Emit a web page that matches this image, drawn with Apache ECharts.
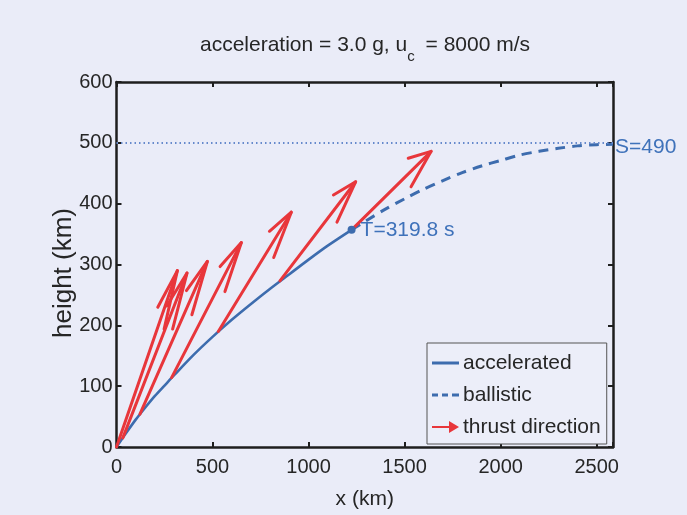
<!DOCTYPE html>
<html>
<head>
<meta charset="utf-8">
<script src="https://cdn.jsdelivr.net/npm/echarts@6/dist/echarts.min.js"></script>
<style>
html,body{margin:0;padding:0;background:#eaecf8;}
#chart{width:687px;height:515px;}
</style>
</head>
<body>
<div id="chart"></div>
<script>
// accelerated (powered) trajectory, km
const accelX = [0, 50, 100, 150, 200, 250, 300, 400, 500, 600, 700, 800, 900, 1000, 1100, 1224];
const accelY = [0, 23, 45, 65, 84, 101, 118, 151, 181, 209, 235, 260, 284, 308, 331, 357];
// ballistic trajectory, km
const ballX = [1224, 1300, 1400, 1500, 1600, 1700, 1800, 1900, 2000, 2100, 2200, 2300, 2400, 2500, 2585];
const ballY = [357, 372, 391, 408, 424, 438, 451, 462, 471, 480, 486, 491, 495, 497, 497.5];
// thrust direction arrows: tails and tips, km
const tailX = [0, 33, 122, 287, 530, 851, 1224];
const tailY = [0, 15, 54, 114, 190, 273, 357];
const tipX = [317, 367, 473, 650, 910, 1245, 1638];
const tipY = [290, 286, 305, 336, 386, 436, 486];
// burnout point and apogee reference
const burnout = [1224, 357];
const burnoutLabel = 'T=319.8 s';
const apogeeLabel = 'S=490';
const refHeight = 500;
// axes
const xTicks = [0, 500, 1000, 1500, 2000, 2500];
const yTicks = [0, 100, 200, 300, 400, 500, 600];
const xMax = 2585;

const BLUE = '#3d6cae';
const RED = '#e8363b';
const LABEL_BLUE = '#3f72ba';
const TXT = '#262626';
const FONT = "'Liberation Sans', Arial, Helvetica, sans-serif";

const accelData = accelX.map((x, i) => [x, accelY[i]]);
const ballData = ballX.map((x, i) => [x, ballY[i]]);
const arrowData = tailX.map((x, i) => [x, tailY[i], tipX[i], tipY[i]]);

const chart = echarts.init(document.getElementById('chart'), null, {renderer: 'canvas'});

const axisCommon = {
  min: 0,
  axisLine: {show: true, onZero: false, lineStyle: {color: '#1e1e1e', width: 2.5}},
  axisTick: {show: true, inside: true, length: 5, lineStyle: {color: '#1e1e1e', width: 2}},
  splitLine: {show: false}
};

const option = {
  backgroundColor: '#eaecf8',
  animation: false,
  title: {
    text: 'acceleration = 3.0 g, u{c|c} = 8000 m/s',
    left: 365,
    top: 27,
    textAlign: 'center',
    padding: 0,
    textStyle: {
      fontFamily: FONT, fontSize: 21, fontWeight: 'normal', color: TXT,
      rich: {
        c: {fontFamily: FONT, fontSize: 15, color: TXT, padding: [22, 5, 0, 0]}
      }
    }
  },
  grid: {left: 116.5, right: 74, top: 82, bottom: 68, containLabel: false},
  legend: {
    orient: 'vertical',
    left: 427,
    top: 343,
    padding: [9, 6, 6, 5],
    itemGap: 10,
    itemWidth: 27,
    itemHeight: 14,
    backgroundColor: '#eceef9',
    borderColor: '#555',
    borderWidth: 1,
    borderRadius: 0,
    textStyle: {fontFamily: FONT, fontSize: 21, color: TXT, lineHeight: 22, padding: [0, 0, 0, -1]},
    data: [
      {name: 'accelerated', icon: 'path://M0,0 L27,0 L27,3 L0,3 Z'},
      {name: 'ballistic', icon: 'path://M0,0 L6,0 L6,3 L0,3 Z M10,0 L16,0 L16,3 L10,3 Z M20,0 L27,0 L27,3 L20,3 Z'},
      {name: 'thrust direction', icon: 'path://M0,5 L17,5 L17,0 L27,6 L17,12 L17,7 L0,7 Z'}
    ]
  },
  xAxis: [
    Object.assign({}, axisCommon, {
      type: 'value', position: 'bottom', max: xMax, interval: 500,
      name: 'x (km)', nameLocation: 'middle', nameGap: 42, nameMoveOverlap: false,
      nameTextStyle: {fontFamily: FONT, fontSize: 21, color: TXT},
      axisLabel: {
        fontFamily: FONT, fontSize: 20, color: TXT, margin: 10,
        showMaxLabel: true,
        formatter: v => (xTicks.indexOf(v) >= 0 ? String(v) : '')
      }
    }),
    Object.assign({}, axisCommon, {
      type: 'value', position: 'top', max: xMax, interval: 500,
      axisLabel: {show: false}
    })
  ],
  yAxis: [
    Object.assign({}, axisCommon, {
      type: 'value', position: 'left', max: 600, interval: 100,
      name: 'height (km)', nameLocation: 'middle', nameGap: 40, nameRotate: 90, nameMoveOverlap: false,
      nameTextStyle: {fontFamily: FONT, fontSize: 26, color: TXT, padding: [0, 17, 0, 0]},
      axisLabel: {
        fontFamily: FONT, fontSize: 20, color: TXT, margin: 4,
        formatter: v => (yTicks.indexOf(v) >= 0 ? String(v) : '')
      }
    }),
    Object.assign({}, axisCommon, {
      type: 'value', position: 'right', max: 600, interval: 100,
      axisLabel: {show: false}
    })
  ],
  series: [
    {
      name: 'accelerated',
      type: 'line',
      data: accelData,
      symbol: 'none',
      smooth: 0.3,
      lineStyle: {color: BLUE, width: 2.6},
      itemStyle: {color: BLUE},
      z: 3
    },
    {
      name: 'ballistic',
      type: 'line',
      data: ballData,
      symbol: 'none',
      smooth: 0.3,
      lineStyle: {color: BLUE, width: 3, type: [10, 7]},
      itemStyle: {color: BLUE},
      endLabel: {
        show: true, formatter: apogeeLabel, distance: 2, offset: [0, 3],
        fontFamily: FONT, fontSize: 21, color: LABEL_BLUE
      },
      markLine: {
        silent: true,
        symbol: 'none',
        label: {show: false},
        lineStyle: {color: '#6689cc', width: 2, type: [1.5, 3]},
        data: [{yAxis: refHeight}]
      },
      z: 3
    },
    {
      name: 'burnout',
      type: 'scatter',
      data: [burnout],
      symbol: 'circle',
      symbolSize: 8,
      itemStyle: {color: BLUE, opacity: 1},
      label: {
        show: true, position: 'right', distance: 5, formatter: burnoutLabel,
        fontFamily: FONT, fontSize: 21, color: LABEL_BLUE, opacity: 1
      },
      z: 5
    },
    {
      name: 'thrust direction',
      type: 'custom',
      data: arrowData,
      encode: {x: [0, 2], y: [1, 3]},
      itemStyle: {color: RED},
      z: 4,
      renderItem: function (params, api) {
        const x0 = api.value(0), y0 = api.value(1), x1 = api.value(2), y1 = api.value(3);
        const u = x1 - x0, v = y1 - y0;
        const alpha = 0.27, beta = 0.21;
        const w1 = [x1 - alpha * (u + beta * v), y1 - alpha * (v - beta * u)];
        const w2 = [x1 - alpha * (u - beta * v), y1 - alpha * (v + beta * u)];
        const p0 = api.coord([x0, y0]);
        const p1 = api.coord([x1, y1]);
        const pw1 = api.coord(w1);
        const pw2 = api.coord(w2);
        const st = {stroke: RED, lineWidth: 3, fill: null, lineCap: 'round', lineJoin: 'round'};
        return {
          type: 'group',
          children: [
            {type: 'polyline', shape: {points: [p0, p1]}, style: st},
            {type: 'polyline', shape: {points: [pw1, p1, pw2]}, style: st}
          ]
        };
      }
    }
  ]
};

chart.setOption(option);
</script>
</body>
</html>
